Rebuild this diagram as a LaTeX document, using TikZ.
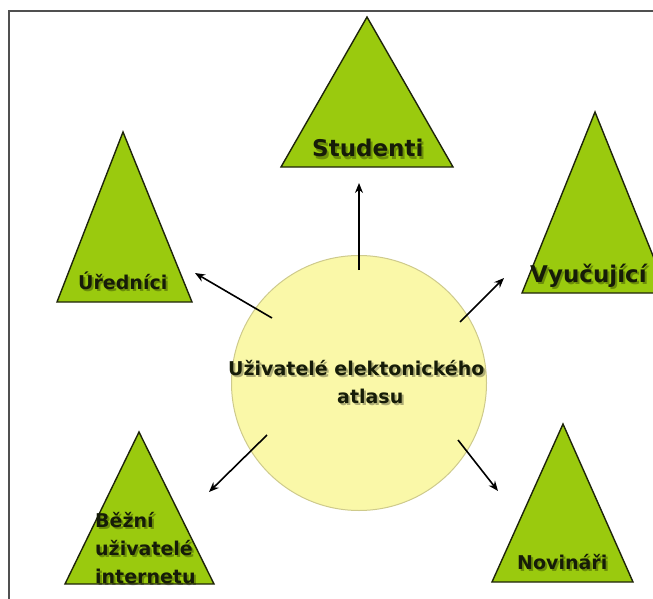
\documentclass[tikz,border=0pt]{standalone}
\usepackage{fontspec}
\setmainfont{DejaVu Sans}
\usetikzlibrary{arrows.meta}

\definecolor{leaf}{RGB}{154,202,14}
\definecolor{leafedge}{RGB}{30,36,10}
\definecolor{ink}{RGB}{22,28,8}
\definecolor{pale}{RGB}{250,248,168}
\definecolor{paleedge}{RGB}{206,202,140}
\definecolor{frame}{RGB}{80,80,80}

% label with a soft drop shadow: style, name, position, text
\newcommand\shadowlabel[4]{%
  \node[#1, text=black, opacity=0.3] at ([shift={(2,2)}]#3) {#4};
  \node[#1] (#2) at (#3) {#4};
}

\begin{document}
\begin{tikzpicture}[x=1pt,y=-1pt,
  tri/.style={draw=leafedge, fill=leaf, line width=1.4pt, line join=miter},
  lbl/.style={font=\bfseries\fontsize{19}{28}\selectfont, text=ink, inner sep=0pt, anchor=base west},
  biglbl/.style={lbl, font=\bfseries\fontsize{23}{28}\selectfont},
  link/.style={-{Stealth[length=10pt,width=8pt]}, line width=1.6pt, draw=black},
  hubstyle/.style={circle, fill=pale, draw=paleedge, line width=1pt, minimum size=255pt, inner sep=0pt}
]
\useasboundingbox (0,0) rectangle (653,599);
\clip (0,0) rectangle (653,599);

% frame
\draw[frame, line width=1.3pt] (8,11) -- (653,11);
\draw[frame, line width=2pt] (9,11) -- (9,599);

% central circle
\node[hubstyle] (hub) at (359,383) {};
\shadowlabel{lbl}{hubA}{228,375}{Uživatelé elektonického}
\shadowlabel{lbl}{hubB}{337,403}{atlasu}

% groups of users
\draw[tri] (367,17) -- (281,167) -- (453,167) -- cycle;
\shadowlabel{biglbl}{stud}{312,157}{Studenti}

\draw[tri] (123,132) -- (57,302) -- (192,302) -- cycle;
\shadowlabel{lbl}{ured}{78,289}{Úředníci}

\draw[tri] (595,112) -- (522,293) -- (668,293) -- cycle;
\shadowlabel{biglbl}{vyuc}{530,282}{Vyučující}

\draw[tri] (139,432) -- (65,584) -- (214,584) -- cycle;
\shadowlabel{lbl}{bez1}{95,527}{Běžní}
\shadowlabel{lbl}{bez2}{95,555}{uživatelé}
\shadowlabel{lbl}{bez3}{95,583}{internetu}

\draw[tri] (563,424) -- (492,582) -- (633,582) -- cycle;
\shadowlabel{lbl}{novi}{517,569}{Novináři}

% arrow ends
\coordinate (sUp) at (359,270);  \coordinate (eUp) at (359,183);
\coordinate (sUL) at (272,318);  \coordinate (eUL) at (195,273);
\coordinate (sUR) at (460,322);  \coordinate (eUR) at (504,278);
\coordinate (sLL) at (267,435);  \coordinate (eLL) at (209,492);
\coordinate (sLR) at (458,440);  \coordinate (eLR) at (498,491);

\draw[link] (sUp) -- (eUp);
\draw[link] (sUL) -- (eUL);
\draw[link] (sUR) -- (eUR);
\draw[link] (sLL) -- (eLL);
\draw[link] (sLR) -- (eLR);
\end{tikzpicture}
\end{document}
